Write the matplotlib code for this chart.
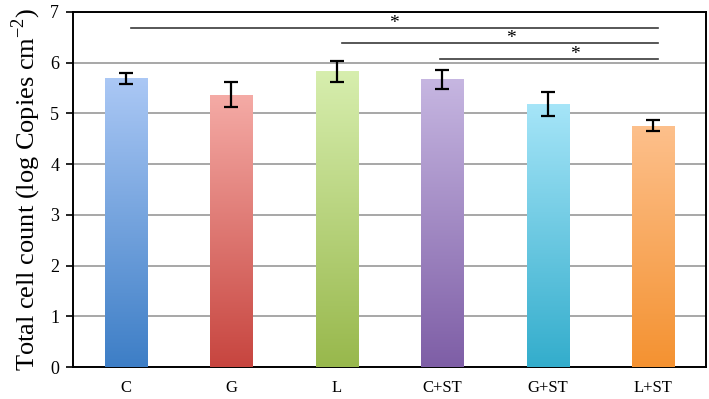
import numpy as np
import matplotlib
matplotlib.use("Agg")
from matplotlib import pyplot as plt
from matplotlib.colors import LinearSegmentedColormap

plt.rcParams['font.family'] = ['Liberation Serif', 'DejaVu Serif']

groups = ['C', 'G', 'L', 'C+ST', 'G+ST', 'L+ST']
counts = [5.69, 5.37, 5.83, 5.67, 5.18, 4.76]
errors = [0.11, 0.24, 0.21, 0.18, 0.24, 0.11]
top_colors = ['#abc8f5', '#f5aba6', '#d7eeae', '#c6b6e1', '#a6e5f8', '#fdc08c']
bottom_colors = ['#3d7ec6', '#c7453f', '#98b84c', '#7e5ea6', '#33adcc', '#f49231']

# significance brackets: (start, end, star x, height)
sig_start = [0.05, 2.05, 2.98]
sig_end = [5.04, 5.04, 5.04]
sig_star = [2.54, 3.65, 4.26]
sig_y = [6.68, 6.38, 6.08]

fig = plt.figure(figsize=(7.09, 3.99), dpi=100)
ax = fig.add_axes([0.103, 0.080, 0.893, 0.890])

x = np.arange(len(groups))
bars = ax.bar(x, counts, width=0.4, color='none', zorder=3)

# vertical gradient fill for each bar
grad = np.linspace(1, 0, 256).reshape(-1, 1)
for b, c_top, c_bot in zip(bars, top_colors, bottom_colors):
    cmap = LinearSegmentedColormap.from_list('g', [c_bot, c_top])
    bx, by = b.get_x(), b.get_y()
    im = ax.imshow(grad, cmap=cmap, aspect='auto', zorder=3,
                   extent=[bx, bx + b.get_width(), by, by + b.get_height()])
    im.set_clip_path(b)

ax.errorbar(x, counts, yerr=errors, fmt='none', ecolor='black',
            elinewidth=1.6, capsize=5, capthick=1.6, zorder=5)

for s, e, sx, sy in zip(sig_start, sig_end, sig_star, sig_y):
    ax.plot([s, e], [sy, sy], color='#3a3a3a', lw=1.2, zorder=4)
    ax.text(sx, sy - 0.08, '*', ha='center', va='bottom', fontsize=14, zorder=4)

ax.set_xlim(-0.5, len(groups) - 0.5)
ax.set_ylim(0, 7)
ax.set_yticks(range(8))
ax.yaxis.grid(True, color='#a0a0a0', lw=1.3, zorder=0)
ax.set_axisbelow(True)
ax.set_xticks(x)
ax.set_xticklabels(groups, fontsize=12)
ax.tick_params(axis='x', length=0, pad=9)
ax.tick_params(axis='y', direction='out', length=5, width=1.2, labelsize=13, pad=5)
for sp in ax.spines.values():
    sp.set_linewidth(1.4)
ax.set_ylabel('Total cell count (log Copies cm$^{\\mathregular{-2}}$)', fontsize=19, labelpad=5)

fig.savefig('out.png', dpi=100)
